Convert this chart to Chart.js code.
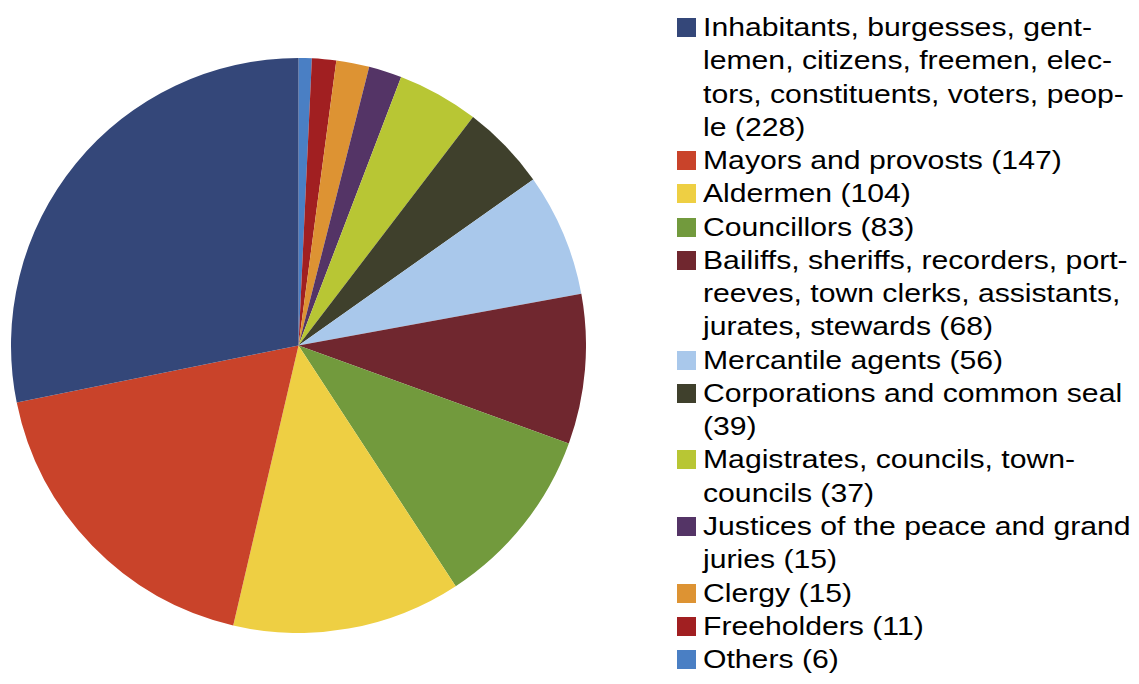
<!DOCTYPE html>
<html>
<head>
<meta charset="utf-8">
<title>Petitioners by category</title>
<script src="https://cdn.jsdelivr.net/npm/chart.js@4/dist/chart.umd.min.js"></script>
<style>
    html, body {
        margin: 0;
        padding: 0;
        background: #ffffff;
    }
    body {
        position: relative;
        width: 1139px;
        height: 684px;
        overflow: hidden;
    }
    #pie-box {
        position: absolute;
        left: 11px;
        top: 58px;
        width: 575px;
        height: 575px;
    }
    #legend {
        position: absolute;
        left: 677px;
        top: 11px;
        margin: 0;
        padding: 0;
        list-style: none;
        font-family: "Liberation Sans", Arial, sans-serif;
        font-size: 26px;
        line-height: 33.26px;
        color: #000000;
    }
    #legend li {
        display: flex;
        align-items: flex-start;
    }
    #legend .swatch {
        flex: none;
        width: 19px;
        height: 19px;
        margin-top: 7px;
        margin-right: 7px;
    }
    /* the legend text is set slightly wide */
    #legend .text {
        white-space: pre-line;
        transform: scaleX(1.16);
        transform-origin: 0 0;
    }
</style>
</head>
<body>
<div id="pie-box"><canvas id="pieChart"></canvas></div>
<ul id="legend"></ul>

<script>
// Categories with the line breaks used in the legend
const categories = [
    'Inhabitants, burgesses, gent-\nlemen, citizens, freemen, elec-\ntors, constituents, voters, peop-\nle',
    'Mayors and provosts',
    'Aldermen',
    'Councillors',
    'Bailiffs, sheriffs, recorders, port-\nreeves, town clerks, assistants,\njurates, stewards',
    'Mercantile agents',
    'Corporations and common seal\n',
    'Magistrates, councils, town-\ncouncils',
    'Justices of the peace and grand\njuries',
    'Clergy',
    'Freeholders',
    'Others'
];

const counts = [228, 147, 104, 83, 68, 56, 39, 37, 15, 15, 11, 6];

const colors = [
    '#344779', '#c9432a', '#eecf43', '#729a3d',
    '#70272f', '#a9c8eb', '#3f402c', '#b8c634',
    '#543466', '#dd9333', '#a11f21', '#4a7fc4'
];

// The pie runs counter-clockwise from 12 o'clock, so feed Chart.js the reversed order
const pieLabels = categories.map((c, i) => c.replace(/-?\n/g, c.includes('-\n') ? '' : ' ') + ' (' + counts[i] + ')').reverse();
const pieData = counts.slice().reverse();
const pieColors = colors.slice().reverse();

const ctx = document.getElementById('pieChart').getContext('2d');
const pieChart = new Chart(ctx, {
    type: 'pie',
    data: {
        labels: pieLabels,
        datasets: [{
            data: pieData,
            backgroundColor: pieColors,
            borderWidth: 0,
            hoverOffset: 0
        }]
    },
    options: {
        responsive: true,
        maintainAspectRatio: false,
        animation: false,
        rotation: 0,
        layout: { padding: 0 },
        plugins: {
            legend: { display: false },
            tooltip: { enabled: false }
        }
    }
});

// Build the legend in the original order, with wrapped labels
const legendList = document.getElementById('legend');
categories.forEach((name, i) => {
    const item = document.createElement('li');
    const swatch = document.createElement('span');
    swatch.className = 'swatch';
    swatch.style.background = colors[i];
    const text = document.createElement('span');
    text.className = 'text';
    text.textContent = name + ' (' + counts[i] + ')';
    item.appendChild(swatch);
    item.appendChild(text);
    legendList.appendChild(item);
});
</script>
</body>
</html>
